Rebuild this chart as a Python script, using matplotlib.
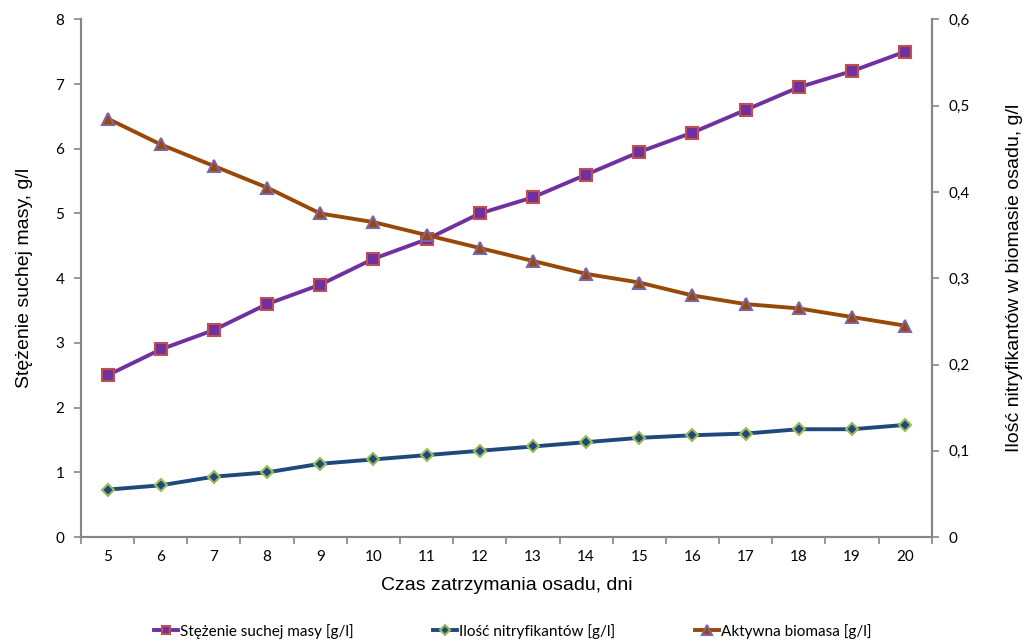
import matplotlib
matplotlib.use("Agg")
import matplotlib.pyplot as plt
from matplotlib.ticker import FixedLocator, FuncFormatter

# dane
dni = [5, 6, 7, 8, 9, 10, 11, 12, 13, 14, 15, 16, 17, 18, 19, 20]
sucha_masa = [2.5, 2.9, 3.2, 3.6, 3.9, 4.3, 4.6, 5.0, 5.25, 5.6, 5.95, 6.25, 6.6, 6.95, 7.2, 7.5]
nitryfikanty = [0.055, 0.06, 0.07, 0.075, 0.085, 0.09, 0.095, 0.1, 0.105, 0.11,
                0.115, 0.118, 0.12, 0.125, 0.125, 0.13]
biomasa = [0.485, 0.455, 0.43, 0.405, 0.375, 0.365, 0.35, 0.335, 0.32, 0.305,
           0.295, 0.28, 0.27, 0.265, 0.255, 0.245]

plt.rcParams['font.family'] = ['Lato', 'DejaVu Sans']
gray = '#868686'
arial = ['Liberation Sans', 'DejaVu Sans']

fig = plt.figure(figsize=(10.25, 6.44), dpi=100)
ax = fig.add_axes([0.079, 0.166, 0.830, 0.804])
ax2 = ax.twinx()

l1, = ax.plot(dni, sucha_masa, color='#7030A0', lw=2.8, marker='s', ms=8,
              mfc='#7030A0', mec='#C0504D', mew=1.5,
              label='Stężenie suchej masy [g/l]', zorder=3)
l2, = ax2.plot(dni, nitryfikanty, color='#1F497D', lw=2.8, marker='D', ms=6,
               mfc='#1F497D', mec='#9BBB59', mew=1.5,
               label='Ilość nitryfikantów [g/l]', zorder=3)
l3, = ax2.plot(dni, biomasa, color='#984807', lw=2.8, marker='^', ms=9,
               mfc='#984807', mec='#8064A2', mew=1.5,
               label='Aktywna biomasa [g/l]', zorder=3)

ax.set_xlim(dni[0] - 0.5, dni[-1] + 0.5)
ax.set_ylim(0, 8)
ax2.set_ylim(0, 0.6)
ax.set_yticks(range(0, 9))
ax2.set_yticks([0, 0.1, 0.2, 0.3, 0.4, 0.5, 0.6])
ax2.yaxis.set_major_formatter(FuncFormatter(
    lambda v, p: '0' if v == 0 else ('%.1f' % v).replace('.', ',')))

ax.set_xticks(dni)
ax.xaxis.set_minor_locator(FixedLocator([d - 0.5 for d in dni] + [dni[-1] + 0.5]))
ax.tick_params(axis='x', which='major', length=0, pad=9, labelsize=11)
ax.tick_params(axis='x', which='minor', length=5, color=gray, width=1.2)
ax.tick_params(axis='y', length=5, color=gray, width=1.2, labelsize=11, pad=7)
ax2.tick_params(axis='y', length=5, color=gray, width=1.2, labelsize=11, pad=7)

for a in (ax, ax2):
    a.spines['top'].set_visible(False)
    for s in ('left', 'right', 'bottom'):
        a.spines[s].set_color(gray)
        a.spines[s].set_linewidth(1.5)

ax.set_xlabel('Czas zatrzymania osadu, dni', fontsize=14, family=arial, labelpad=10)
ax.set_ylabel('Stężenie suchej masy, g/l', fontsize=14, family=arial, labelpad=16)
ax2.set_ylabel('Ilość nitryfikantów w biomasie osadu, g/l', fontsize=14,
               family=arial, rotation=90, labelpad=26, va='top')

leg = fig.legend(handles=[l1, l2, l3], loc='center', bbox_to_anchor=(0.5, 0.02),
                 ncol=3, frameon=False, fontsize=11, handlelength=1.6,
                 handletextpad=0.1, columnspacing=5.2, markerscale=0.8)

fig.savefig('out.png', dpi=100)
